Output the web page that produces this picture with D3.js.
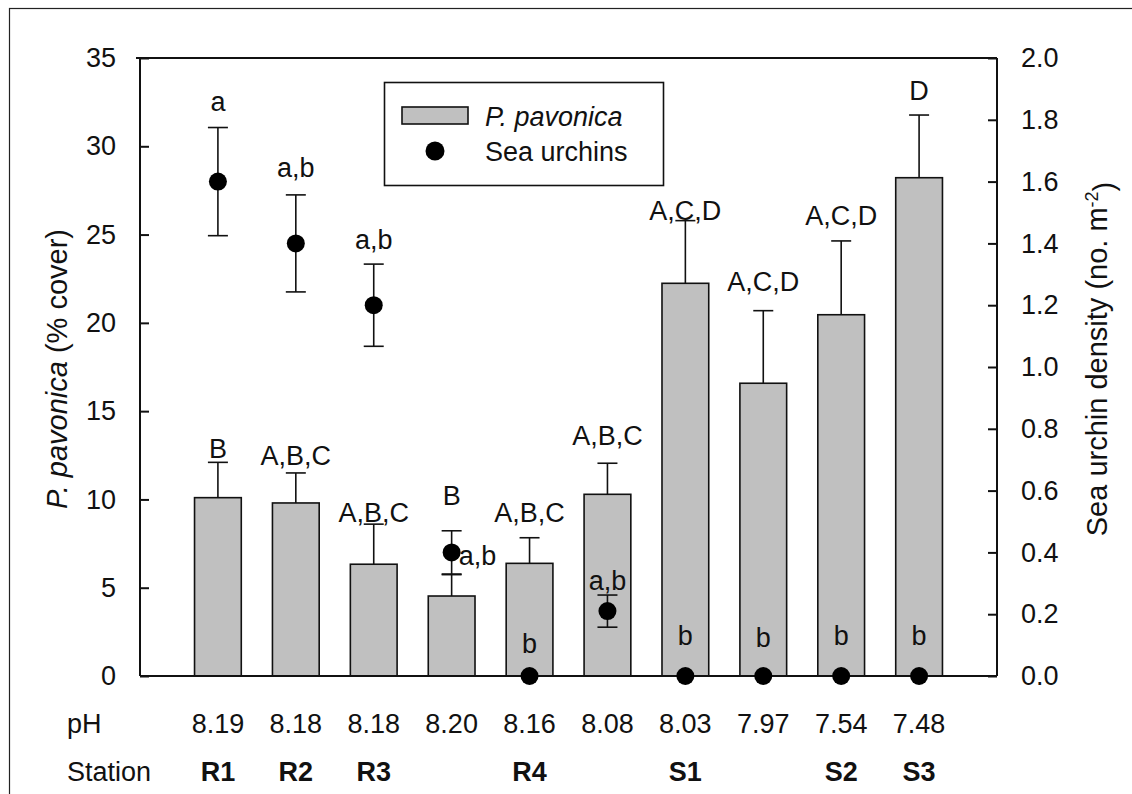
<!DOCTYPE html>
<html>
<head>
<meta charset="utf-8">
<script src="https://cdn.jsdelivr.net/npm/d3@7"></script>
<style>
  html, body { margin: 0; padding: 0; background: #fff; }
  svg { display: block; font-family: "Liberation Sans", Arial, sans-serif; }
</style>
</head>
<body>
<svg id="chart" width="1132" height="794"></svg>
<script>
// Station data: P. pavonica cover (bars, left axis) and sea urchin density (points, right axis)
const stations = ["R1", "R2", "R3", "", "R4", "", "S1", "", "S2", "S3"];
const phValues = ["8.19", "8.18", "8.18", "8.20", "8.16", "8.08", "8.03", "7.97", "7.54", "7.48"];

const coverMean = [10.1, 9.8, 6.33, 4.53, 6.38, 10.29, 22.24, 16.58, 20.46, 28.22];
const coverSE = [2.0, 1.7, 2.27, 1.21, 1.45, 1.76, 3.55, 4.11, 4.18, 3.55];
const coverLetters = ["B", "A,B,C", "A,B,C", "B", "A,B,C", "A,B,C", "A,C,D", "A,C,D", "A,C,D", "D"];
const coverLetterAt = [12.9, 12.5, 9.3, 10.25, 9.3, 13.65, 26.4, 22.33, 26.1, 33.2];

const urchinMean = [1.6, 1.4, 1.2, 0.4, 0, 0.21, 0, 0, 0, 0];
const urchinSE = [0.175, 0.157, 0.133, 0.07, 0, 0.052, 0, 0, 0, 0];
const urchinLetters = ["a", "a,b", "a,b", "a,b", "b", "a,b", "b", "b", "b", "b"];
const urchinLetterAt = [1.86, 1.645, 1.413, 0.392, 0.107, 0.311, 0.133, 0.125, 0.133, 0.133];
const urchinLetterAnchor = ["middle", "middle", "middle", "start", "middle", "middle", "middle", "middle", "middle", "middle"];

const leftTicks = [0, 5, 10, 15, 20, 25, 30, 35];
const rightTicks = [0, 0.2, 0.4, 0.6, 0.8, 1.0, 1.2, 1.4, 1.6, 1.8, 2.0];

const plot = { left: 140, right: 997, top: 58, bottom: 676 };
const FS = 27;       // tick labels, letters, rows, legend
const FS_TITLE = 29; // axis titles
const BAR_FILL = "#c0c0c0";
const INK = "#111";

const svg = d3.select("#chart");

// outer frame
svg.append("rect")
  .attr("x", 9.5).attr("y", 8.5)
  .attr("width", 1300).attr("height", 1000)
  .attr("fill", "none").attr("stroke", "#222").attr("stroke-width", 1.2);

const idx = d3.range(stations.length);
const x = d3.scaleLinear().domain([0, stations.length + 1]).range([plot.left, plot.right]);
const yL = d3.scaleLinear().domain([0, 35]).range([plot.bottom, plot.top]);
const yR = d3.scaleLinear().domain([0, 2.0]).range([plot.bottom, plot.top]);
const barW = x(0.6) - x(0);
const cx = i => x(i + 1);

// bars
const g = svg.append("g");
g.selectAll("rect.bar").data(idx).join("rect")
  .attr("class", "bar")
  .attr("x", i => cx(i) - barW / 2)
  .attr("y", i => yL(coverMean[i]))
  .attr("width", barW)
  .attr("height", i => yL(0) - yL(coverMean[i]))
  .attr("fill", BAR_FILL).attr("stroke", INK).attr("stroke-width", 1.6);

// upward error bars on bars
const capHalf = 10;
g.selectAll("line.berr").data(idx).join("line")
  .attr("x1", cx).attr("x2", cx)
  .attr("y1", i => yL(coverMean[i]))
  .attr("y2", i => yL(coverMean[i] + coverSE[i]))
  .attr("stroke", INK).attr("stroke-width", 1.6);
g.selectAll("line.bcap").data(idx).join("line")
  .attr("x1", i => cx(i) - capHalf).attr("x2", i => cx(i) + capHalf)
  .attr("y1", i => yL(coverMean[i] + coverSE[i]))
  .attr("y2", i => yL(coverMean[i] + coverSE[i]))
  .attr("stroke", INK).attr("stroke-width", 1.6);

// bar letters
g.selectAll("text.blet").data(idx).join("text")
  .attr("x", cx)
  .attr("y", i => yL(coverLetterAt[i]))
  .attr("dy", "0.36em")
  .attr("text-anchor", "middle")
  .attr("font-size", FS).attr("fill", INK)
  .text(i => coverLetters[i]);

// axes frame
const axis = svg.append("g").attr("stroke", INK).attr("stroke-width", 2).attr("fill", "none");
axis.append("line").attr("x1", plot.left).attr("x2", plot.left).attr("y1", plot.top).attr("y2", plot.bottom);
axis.append("line").attr("x1", plot.right).attr("x2", plot.right).attr("y1", plot.top).attr("y2", plot.bottom);
axis.append("line").attr("x1", plot.left - 4).attr("x2", plot.right).attr("y1", plot.top).attr("y2", plot.top);
axis.append("line").attr("x1", plot.left).attr("x2", plot.right).attr("y1", plot.bottom).attr("y2", plot.bottom);

// left axis (inward ticks)
const leftAxis = svg.append("g")
  .attr("transform", `translate(${plot.left},0)`)
  .call(d3.axisLeft(yL).tickValues(leftTicks).tickSizeInner(-9).tickSizeOuter(0).tickPadding(24).tickFormat(d3.format("d")));
leftAxis.select(".domain").remove();
leftAxis.selectAll(".tick line").attr("stroke", INK).attr("stroke-width", 2);
leftAxis.selectAll(".tick text").attr("font-size", FS).attr("fill", INK).attr("font-family", null);

// right axis (inward ticks)
const rightAxis = svg.append("g")
  .attr("transform", `translate(${plot.right},0)`)
  .call(d3.axisRight(yR).tickValues(rightTicks).tickSizeInner(-9).tickSizeOuter(0).tickPadding(24).tickFormat(d3.format(".1f")));
rightAxis.select(".domain").remove();
rightAxis.selectAll(".tick line").attr("stroke", INK).attr("stroke-width", 2);
rightAxis.selectAll(".tick text").attr("font-size", FS).attr("fill", INK).attr("font-family", null);

// urchin error bars (symmetric)
const u = svg.append("g");
const withErr = idx.filter(i => urchinSE[i] > 0);
u.selectAll("line.uerr").data(withErr).join("line")
  .attr("x1", cx).attr("x2", cx)
  .attr("y1", i => yR(urchinMean[i] - urchinSE[i]))
  .attr("y2", i => yR(urchinMean[i] + urchinSE[i]))
  .attr("stroke", INK).attr("stroke-width", 1.6);
u.selectAll("line.ucapT").data(withErr).join("line")
  .attr("x1", i => cx(i) - capHalf).attr("x2", i => cx(i) + capHalf)
  .attr("y1", i => yR(urchinMean[i] + urchinSE[i])).attr("y2", i => yR(urchinMean[i] + urchinSE[i]))
  .attr("stroke", INK).attr("stroke-width", 1.6);
u.selectAll("line.ucapB").data(withErr).join("line")
  .attr("x1", i => cx(i) - capHalf).attr("x2", i => cx(i) + capHalf)
  .attr("y1", i => yR(urchinMean[i] - urchinSE[i])).attr("y2", i => yR(urchinMean[i] - urchinSE[i]))
  .attr("stroke", INK).attr("stroke-width", 1.6);

// urchin points
u.selectAll("circle").data(idx).join("circle")
  .attr("cx", cx).attr("cy", i => yR(urchinMean[i]))
  .attr("r", 9).attr("fill", "#000");

// urchin letters
u.selectAll("text").data(idx).join("text")
  .attr("x", i => urchinLetterAnchor[i] === "start" ? cx(i) + 7 : cx(i))
  .attr("y", i => yR(urchinLetterAt[i]))
  .attr("dy", "0.36em")
  .attr("text-anchor", i => urchinLetterAnchor[i])
  .attr("font-size", FS).attr("fill", INK)
  .text(i => urchinLetters[i]);

// pH and station rows
const rows = svg.append("g").attr("fill", INK);
rows.append("text").attr("x", 67).attr("y", 723).attr("dy", "0.36em").attr("font-size", FS).text("pH");
rows.append("text").attr("x", 67).attr("y", 771).attr("dy", "0.36em").attr("font-size", FS).text("Station");
rows.selectAll("text.ph").data(idx).join("text")
  .attr("class", "ph")
  .attr("x", cx).attr("y", 723).attr("dy", "0.36em")
  .attr("text-anchor", "middle").attr("font-size", FS)
  .text(i => phValues[i]);
rows.selectAll("text.st").data(idx.filter(i => stations[i] !== "")).join("text")
  .attr("class", "st")
  .attr("x", cx).attr("y", 771).attr("dy", "0.36em")
  .attr("text-anchor", "middle").attr("font-size", FS).attr("font-weight", "bold")
  .text(i => stations[i]);

// axis titles
const lt = svg.append("text")
  .attr("transform", `translate(57,369) rotate(-90)`)
  .attr("text-anchor", "middle").attr("dy", "0.36em")
  .attr("font-size", FS_TITLE).attr("fill", INK);
lt.append("tspan").attr("font-style", "italic").text("P. pavonica");
lt.append("tspan").text(" (% cover)");

const rt = svg.append("text")
  .attr("transform", `translate(1097,359) rotate(-90)`)
  .attr("text-anchor", "middle").attr("dy", "0.36em")
  .attr("font-size", FS_TITLE).attr("fill", INK);
rt.append("tspan").text("Sea urchin density (no. m");
rt.append("tspan").attr("dy", "-0.55em").attr("font-size", FS_TITLE * 0.62).text("-2");
rt.append("tspan").attr("dy", "0.55em").text(")");

// legend
const lg = svg.append("g");
lg.append("rect").attr("x", 384.5).attr("y", 82.5).attr("width", 279).attr("height", 103)
  .attr("fill", "#fff").attr("stroke", INK).attr("stroke-width", 1.6);
lg.append("rect").attr("x", 402).attr("y", 107).attr("width", 66).attr("height", 17)
  .attr("fill", BAR_FILL).attr("stroke", INK).attr("stroke-width", 1.6);
lg.append("circle").attr("cx", 435).attr("cy", 151).attr("r", 9.5).attr("fill", "#000");
lg.append("text").attr("x", 485).attr("y", 116).attr("dy", "0.36em")
  .attr("font-size", FS).attr("font-style", "italic").attr("fill", INK).text("P. pavonica");
lg.append("text").attr("x", 485).attr("y", 151).attr("dy", "0.36em")
  .attr("font-size", FS).attr("fill", INK).text("Sea urchins");
</script>
</body>
</html>
